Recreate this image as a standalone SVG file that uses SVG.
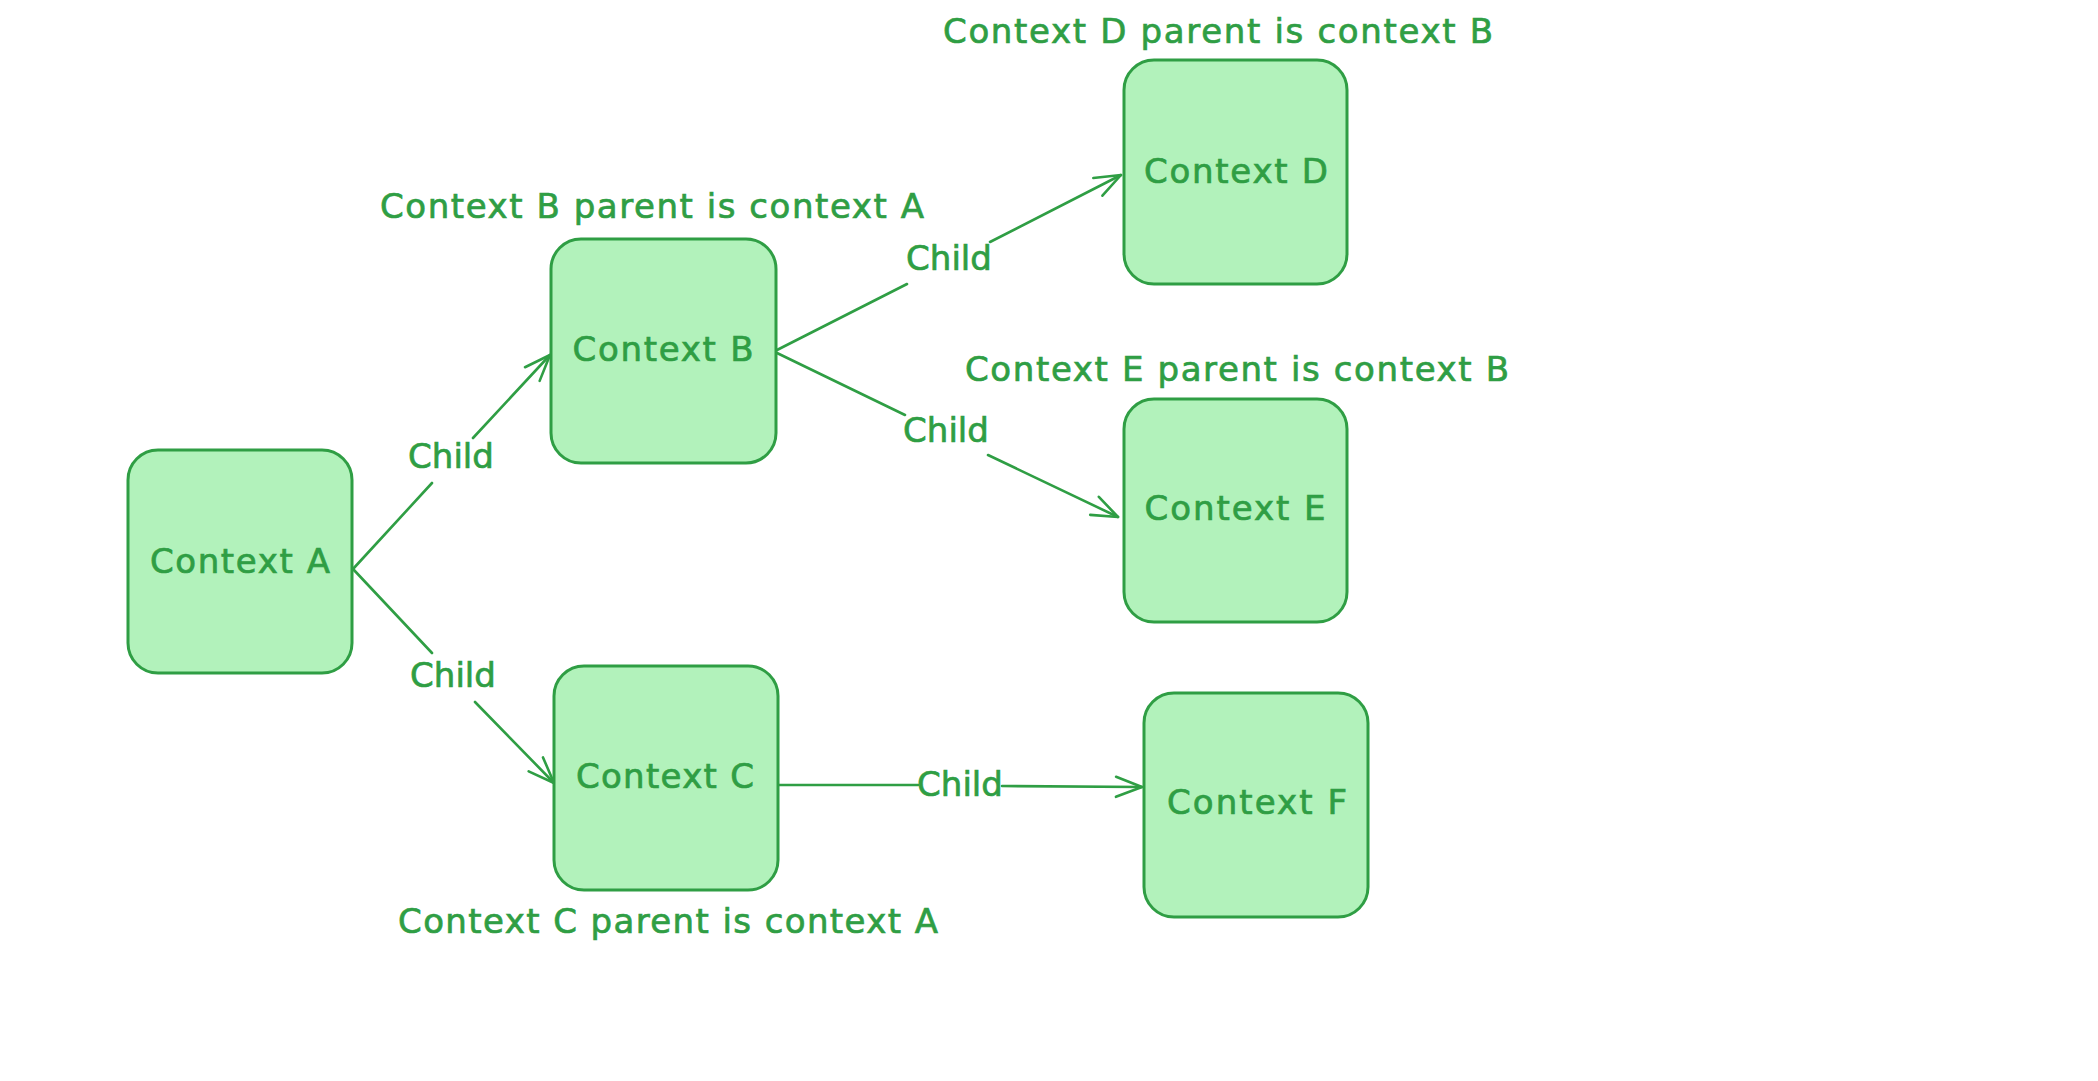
<svg xmlns="http://www.w3.org/2000/svg" width="2098" height="1081" viewBox="0 0 2098 1081">
<style>
.box{fill:#b2f2bb;stroke:#2f9e44;stroke-width:3}
.t{font-family:"DejaVu Sans","Liberation Sans",sans-serif;font-size:34px;fill:#2f9e44;stroke:#2f9e44;stroke-width:0.7}
.m{text-anchor:middle}
.c{fill:none;stroke:#2f9e44;stroke-width:2.6;stroke-linecap:round}
</style>
<defs>
<marker id="ah" markerUnits="userSpaceOnUse" markerWidth="40" markerHeight="40" viewBox="-30 -20 40 40" refX="0" refY="0" orient="auto">
<path d="M-26,-10 L0,0 L-26,10" fill="none" stroke="#2f9e44" stroke-width="2.6" stroke-linecap="round" stroke-linejoin="round"/>
</marker>
</defs>
<rect width="2098" height="1081" fill="#ffffff"/>
<g id="connectors">
<path class="c" d="M353,569 L432,483 M473,438 L550,355" marker-end="url(#ah)"/>
<path class="c" d="M353,569 L432,653 M475,702 L554,783" marker-end="url(#ah)"/>
<path class="c" d="M777,350 L907,284 M990,242 L1121,175" marker-end="url(#ah)"/>
<path class="c" d="M777,353 L905,415 M988,455 L1118,517" marker-end="url(#ah)"/>
<path class="c" d="M778,785 L918,785 M1002,786 L1142,787" marker-end="url(#ah)"/>
<text class="t m" x="451" y="468">Child</text>
<text class="t m" x="453" y="687">Child</text>
<text class="t m" x="949" y="270">Child</text>
<text class="t m" x="946" y="442">Child</text>
<text class="t m" x="960" y="796">Child</text>
</g>
<g id="nodeA">
<rect class="box" x="128" y="450" width="224" height="223" rx="30"/>
<text class="t m" x="240" y="573" textLength="180">Context A</text>
</g>
<g id="nodeB">
<rect class="box" x="551" y="239" width="225" height="224" rx="30"/>
<text class="t m" x="663" y="361" textLength="181">Context B</text>
</g>
<g id="nodeC">
<rect class="box" x="554" y="666" width="224" height="224" rx="30"/>
<text class="t m" x="665" y="788" textLength="178">Context C</text>
</g>
<g id="nodeD">
<rect class="box" x="1124" y="60" width="223" height="224" rx="30"/>
<text class="t m" x="1236" y="183" textLength="184">Context D</text>
</g>
<g id="nodeE">
<rect class="box" x="1124" y="399" width="223" height="223" rx="30"/>
<text class="t m" x="1235" y="520" textLength="181">Context E</text>
</g>
<g id="nodeF">
<rect class="box" x="1144" y="693" width="224" height="224" rx="30"/>
<text class="t m" x="1257" y="814" textLength="180">Context F</text>
</g>
<g id="labelB">
<text class="t" x="380" y="218" textLength="544">Context B parent is context A</text>
</g>
<g id="labelD">
<text class="t" x="943" y="43" textLength="550">Context D parent is context B</text>
</g>
<g id="labelE">
<text class="t" x="965" y="381" textLength="544">Context E parent is context B</text>
</g>
<g id="labelC">
<text class="t" x="398" y="933" textLength="540">Context C parent is context A</text>
</g>
</svg>
